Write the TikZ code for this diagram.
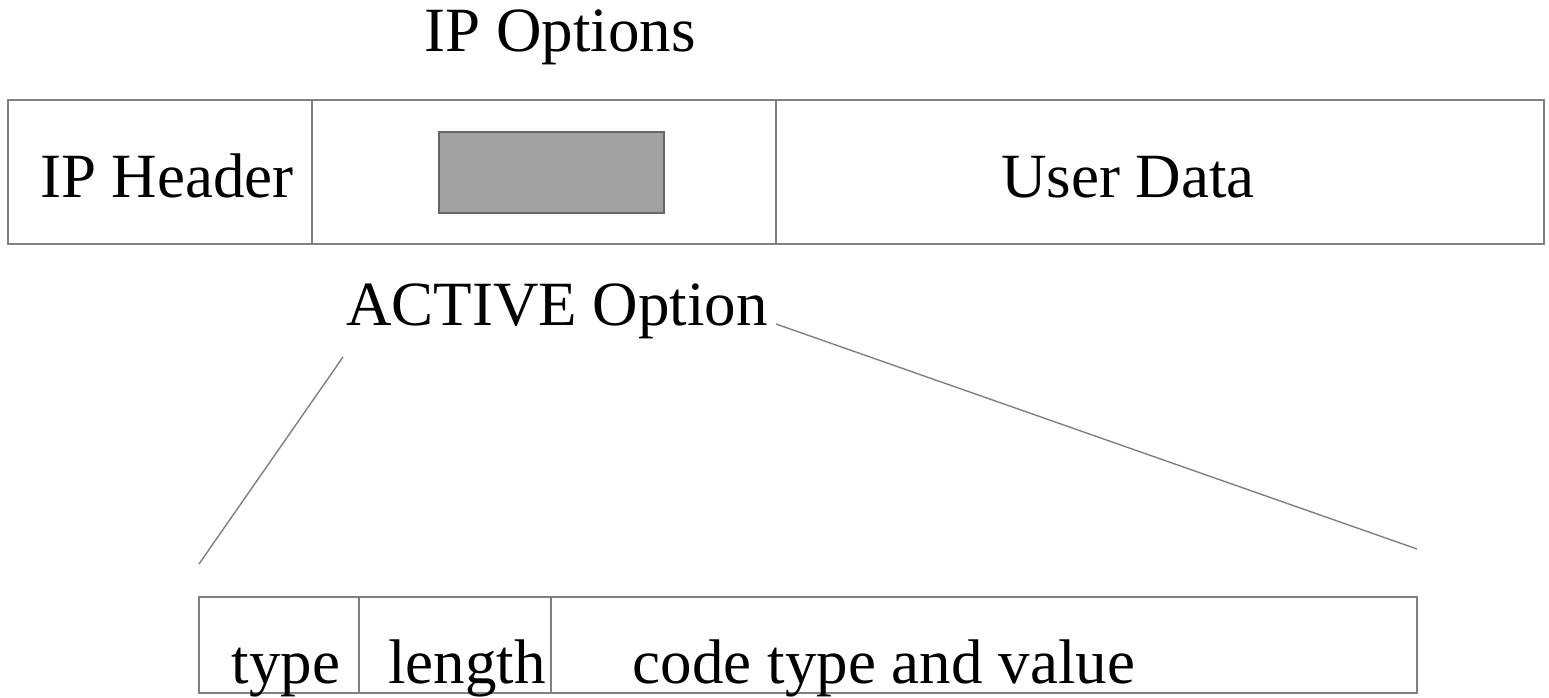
\documentclass[tikz,border=0pt]{standalone}
\usepackage{fontspec}
\setmainfont{Liberation Serif}
\begin{document}
\begin{tikzpicture}[x=1pt,y=-1pt,
  cell/.style={draw=black!50,line width=1.8pt,inner sep=0pt,outer sep=0pt,anchor=north west},
  lbl/.style={inner sep=0pt,anchor=base,font=\fontsize{63}{70}\selectfont},
  conn/.style={draw=black!50,line width=1.4pt}]
\useasboundingbox (0,0) rectangle (1549,698);
% top row
\node[cell,minimum width=304pt,minimum height=144pt] (hdr) at (8,100) {};
\node[cell,minimum width=464pt,minimum height=144pt] (opt) at (312,100) {};
\node[cell,minimum width=768pt,minimum height=144pt] (dat) at (776,100) {};
\node[cell,draw=black!60,fill=black!37,line width=1.5pt,minimum width=225pt,minimum height=81pt] (act) at (439,132) {};
\node[lbl] (tOpt) at (560,52) {IP Options};
\node[lbl] (tHdr) at (167,197) {IP Header};
\node[lbl] (tDat) at (1128,197) {User Data};
\node[lbl] (tAct) at (557,325) {ACTIVE Option};
% bottom row
\node[cell,minimum width=160pt,minimum height=96pt] (typ) at (199,597) {};
\node[cell,minimum width=192pt,minimum height=96pt] (len) at (359,597) {};
\node[cell,minimum width=866pt,minimum height=96pt] (val) at (551,597) {};
\node[lbl] (tTyp) at (286,683) {type};
\node[lbl] (tLen) at (467,683) {length};
\node[lbl] (tVal) at (884,683) {code type and value};
% zoom connectors
\coordinate (aL) at (343,357);
\coordinate (aR) at (776,324);
\coordinate (bL) at (199,564);
\coordinate (bR) at (1417,549);
\draw[conn] (aL) -- (bL);
\draw[conn] (aR) -- (bR);
\end{tikzpicture}
\end{document}
